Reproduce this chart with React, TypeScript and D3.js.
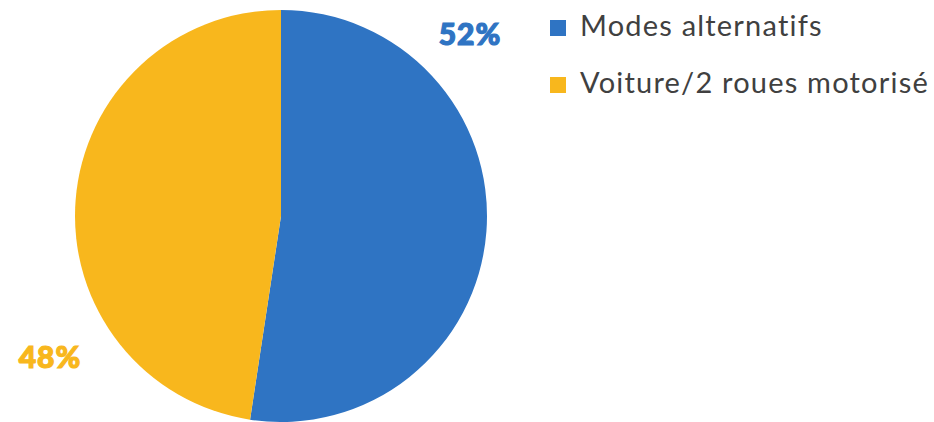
import React, { useEffect, useRef } from "react";
import * as d3 from "d3";

const categories = ["Modes alternatifs", "Voiture/2 roues motorisé"];
const values = [52.4, 47.6];
const colors = ["#2F74C3", "#F8B71D"];
const percentLabels = ["52%", "48%"];

export default function App() {
    const ref = useRef<SVGSVGElement | null>(null);

    useEffect(() => {
        const width = 934;
        const height = 422;
        const cx = 281;
        const cy = 216;
        const radius = 206;

        const svg = d3.select(ref.current);
        svg.selectAll("*").remove();

        const pie = d3.pie<number>().sort(null).value((d) => d);
        const arc = d3.arc<d3.PieArcDatum<number>>().innerRadius(0).outerRadius(radius);
        const arcs = pie(values);

        const g = svg.append("g").attr("transform", `translate(${cx},${cy})`);
        g.selectAll("path")
            .data(arcs)
            .enter()
            .append("path")
            .attr("d", arc)
            .attr("fill", (d, i) => colors[i]);

        // percentage labels sit outside the pie
        const labelPos = [
            [470, 45],
            [50, 368],
        ];
        svg.selectAll("text.pct")
            .data(percentLabels)
            .enter()
            .append("text")
            .attr("class", "pct")
            .attr("x", (d, i) => labelPos[i][0])
            .attr("y", (d, i) => labelPos[i][1])
            .attr("text-anchor", "middle")
            .attr("font-family", "Lato, sans-serif")
            .attr("font-weight", 900)
            .attr("font-size", "30px")
            .attr("letter-spacing", "1px")
            .attr("stroke", (d, i) => colors[i])
            .attr("stroke-width", 1.2)
            .attr("fill", (d, i) => colors[i])
            .text((d) => d);

        // legend
        const legend = svg.append("g").attr("transform", "translate(550,20)");
        const row = legend.selectAll("g")
            .data(categories)
            .enter()
            .append("g")
            .attr("transform", (d, i) => `translate(0,${i * 57})`);
        row.append("rect")
            .attr("width", 16)
            .attr("height", 16)
            .attr("fill", (d, i) => colors[i]);
        row.append("text")
            .attr("x", 30)
            .attr("y", 16)
            .attr("font-family", "Lato, sans-serif")
            .attr("font-size", "29px")
            .attr("letter-spacing", "1.2px")
            .attr("style", "font-variant-ligatures: none")
            .attr("fill", "#404040")
            .text((d) => d);

        svg.attr("width", width).attr("height", height);
    }, []);

    return (
        <div style={{ position: "absolute", left: 0, top: 0 }}>
            <svg ref={ref} width={934} height={422} style={{ display: "block" }} />
        </div>
    );
}
